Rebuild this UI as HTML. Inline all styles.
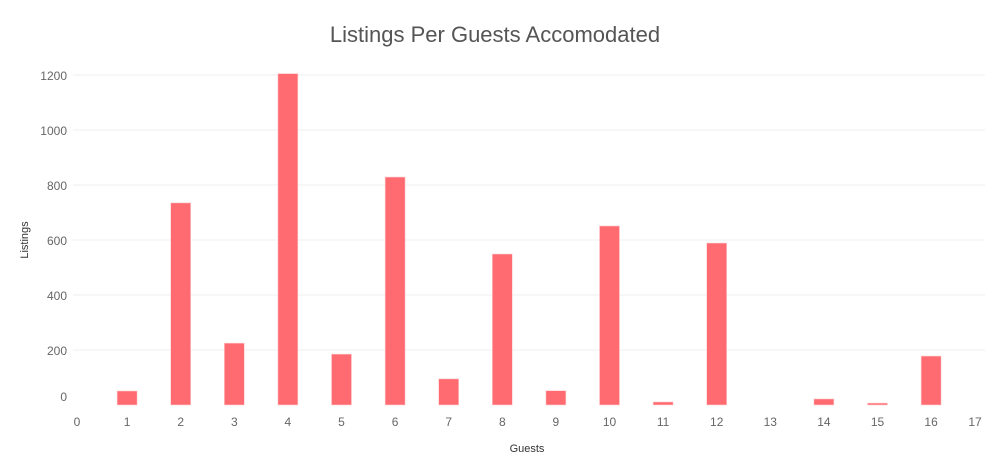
<!DOCTYPE html>
<html><head><meta charset="utf-8"><style>
body{margin:0;background:#fff;font-family:"Liberation Sans",sans-serif}
svg text{font-family:"Liberation Sans",sans-serif}
</style></head><body>
<svg id="c" width="1000" height="458">
<text x="495" y="42" text-anchor="middle" font-size="22" fill="#555">Listings Per Guests Accomodated</text>
<text x="28" y="240" text-anchor="middle" font-size="11" fill="#333" transform="rotate(-90 28 240)">Listings</text>
<text x="527" y="452" text-anchor="middle" font-size="11" fill="#333">Guests</text>
<g id="g"></g>
</svg>
<script>
const guests=[1,2,3,4,5,6,7,8,9,10,11,12,14,15,16];
const listings=[51,735,225,1205,185,829,95,549,52,651,11,589,22,7,178];
const yTicks=[0,200,400,600,800,1000,1200];
const xTicks=[0,1,2,3,4,5,6,7,8,9,10,11,12,13,14,15,16,17];
const ns="http://www.w3.org/2000/svg";
const g=document.getElementById('g');
const y=v=>405-v*0.275;
const x=n=>73.5+53.6*n;
function mk(t,a){const e=document.createElementNS(ns,t);for(const k in a)e.setAttribute(k,a[k]);g.appendChild(e);return e;}
yTicks.forEach(v=>{
 if(v>0){const l=mk('line',{x1:73,x2:985,y1:y(v),y2:y(v),stroke:'#efefef'});
 
 }
 const t=mk('text',{x:67,y:(v===0?401:y(v)+5),'text-anchor':'end','font-size':12,fill:'#666'});t.textContent=v;
 
 
});
xTicks.forEach(n=>{
 let px=x(n); if(n===0)px=77; if(n===17)px=975;
 const t=mk('text',{x:px,y:426,'text-anchor':'middle','font-size':12,fill:'#666'});t.textContent=n;
 
 
});
guests.forEach((n,i)=>{
 const r=mk('rect',{x:x(n)-10,y:y(listings[i]),width:20,height:405-y(listings[i]),fill:'#ff6b70',stroke:'#ffd0d2','stroke-width':0.6});
 
 
});
</script>
</body></html>
